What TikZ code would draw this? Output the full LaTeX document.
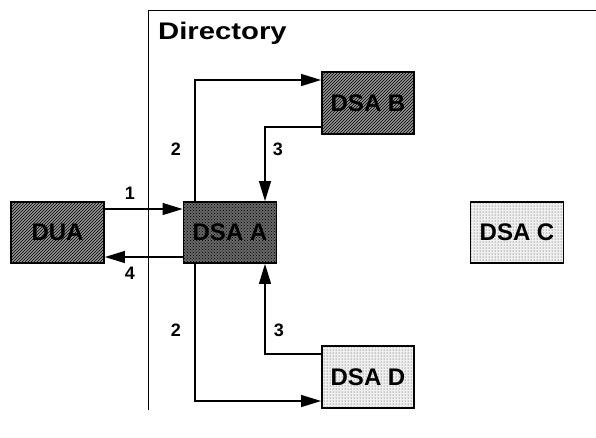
\documentclass[tikz,border=0pt]{standalone}
\usepackage{fontspec}
\setmainfont{Liberation Sans}
\usetikzlibrary{arrows.meta,patterns}
\begin{document}
\begin{tikzpicture}[x=1pt,y=-1pt,
  box/.style={draw=black, line width=1.8pt, minimum width=93pt, minimum height=61pt, inner sep=0pt,
    font=\bfseries\fontsize{24}{24}\selectfont},
  hatchbox/.style={box, preaction={fill=black!42}, pattern=north east lines, pattern color=black},
  darkbox/.style={box, preaction={fill=black!60}, pattern=crosshatch dots, pattern color=black},
  lightbox/.style={box, preaction={fill=black!6}, pattern=dots, pattern color=black!80},
  conn/.style={line width=1.2pt, -{Triangle[length=20pt,width=12pt]}},
  num/.style={font=\bfseries\fontsize{18}{18}\selectfont, inner sep=0pt},
  frame/.style={line width=0.8pt}]
\useasboundingbox (0,0) rectangle (596,437);
% directory frame
\coordinate (ftop) at (148,10);
\coordinate (fright) at (596,10);
\coordinate (fbot) at (148,410);
\draw[frame] (fright) -- (ftop) -- (fbot);
\node[anchor=base west, inner sep=0pt, font=\bfseries\fontsize{24}{24}\selectfont] (dir) at (158,39) {\scalebox{1.22}[1]{Directory}};
% boxes
\node[hatchbox] (dua) at (57.5,232.5) {DUA};
\node[darkbox] (dsaa) at (230,232.5) {DSA A};
\node[hatchbox, minimum width=92pt, minimum height=62pt] (dsab) at (368,103) {DSA B};
\node[lightbox] (dsac) at (517,232.5) {DSA C};
\node[lightbox, minimum width=92pt, minimum height=62pt] (dsad) at (368,377) {DSA D};
% connectors
\draw[conn] (dua.east |- 0,209) -- (dsaa.west |- 0,209);
\draw[conn] (dsaa.west |- 0,257) -- (dua.east |- 0,257);
\draw[conn] (dsaa.north -| 195,0) |- (dsab.west |- 0,80);
\draw[conn] (dsab.west |- 0,127) -| (dsaa.north -| 265,0);
\draw[conn] (dsaa.south -| 195,0) |- (dsad.west |- 0,401);
\draw[conn] (dsad.west |- 0,354) -| (dsaa.south -| 265,0);
% labels
\node[num] (n1) at (130,193) {1};
\node[num] (n4) at (130,273) {4};
\node[num] (n2a) at (176,149) {2};
\node[num] (n3a) at (278,149) {3};
\node[num] (n2b) at (176,330) {2};
\node[num] (n3b) at (279,330) {3};
\end{tikzpicture}
\end{document}
